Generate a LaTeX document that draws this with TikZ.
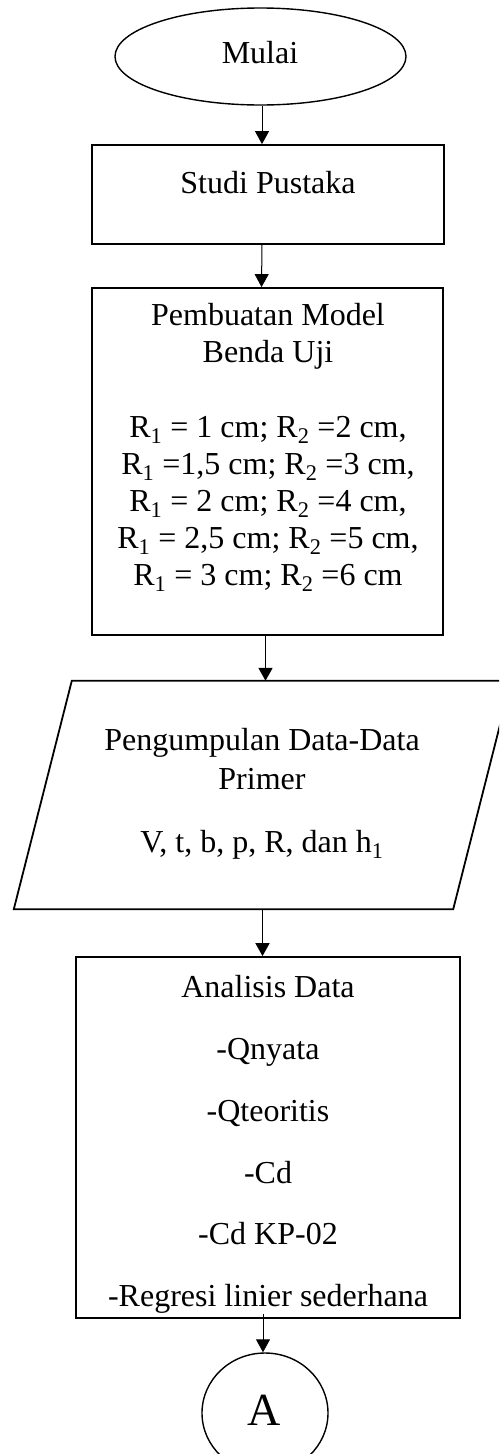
\documentclass[tikz,border=0pt]{standalone}
\usepackage{fontspec}
\setmainfont{Liberation Serif}
\usetikzlibrary{shapes.geometric,arrows.meta}
\newcommand{\sbx}[1]{\textsubscript{#1}}
\begin{document}
\begin{tikzpicture}[x=1pt,y=-1pt,
  boxshape/.style={draw=black,line width=1.8pt,minimum width=#1,inner sep=0pt},
  ovalshape/.style={draw=black,line width=1.4pt,ellipse,inner sep=0pt},
  txt/.style={anchor=base,inner sep=0pt,font=\fontsize{32}{36.8}\selectfont},
  thinarr/.style={line width=1pt,-{Triangle[length=13pt,width=14pt]}},
  thickarr/.style={line width=1.8pt,-{Triangle[length=13pt,width=14pt]}}]
\useasboundingbox (0,0) rectangle (499,1454);
\clip (0,0) rectangle (499,1454);
% shapes
\node[ovalshape,minimum width=291pt,minimum height=97pt] (start) at (260.5,56.5) {};
\node[boxshape=352pt,minimum height=99pt] (studi) at (268,194.5) {};
\node[boxshape=351pt,minimum height=347pt] (model) at (267.5,461.5) {};
\node[minimum width=497pt,minimum height=228pt,inner sep=0pt] (data) at (262.5,795) {};
\draw[line width=1.8pt,line join=miter]
  ([xshift=58pt]data.north west) -- (data.north east)
  -- ([xshift=-58pt]data.south east) -- (data.south west) -- cycle;
\node[boxshape=384pt,minimum height=361pt] (ana) at (268,1137.5) {};
\node[ovalshape,minimum width=126pt,minimum height=120pt] (A) at (265,1413) {};
% texts
\node[txt] (tstart) at (260,63) {Mulai};
\node[txt] (tstudi) at (268,193) {Studi Pustaka};
\node[txt] (tmodel1) at (268,325) {Pembuatan Model};
\node[txt] (tmodel2) at (268,362) {Benda Uji};
\node[txt] (tr1) at (268,437) {R\sbx{1} = 1 cm; R\sbx{2} =2 cm,};
\node[txt] (tr2) at (268,474) {R\sbx{1} =1,5 cm; R\sbx{2} =3 cm,};
\node[txt] (tr3) at (268,511) {R\sbx{1} = 2 cm; R\sbx{2} =4 cm,};
\node[txt] (tr4) at (268,548) {R\sbx{1} = 2,5 cm; R\sbx{2} =5 cm,};
\node[txt] (tr5) at (268,585) {R\sbx{1} = 3 cm; R\sbx{2} =6 cm};
\node[txt] (tdata1) at (262,750) {Pengumpulan Data-Data};
\node[txt] (tdata2) at (262,789) {Primer};
\node[txt] (tdata3) at (262,852) {V, t, b, p, R, dan h\sbx{1}};
\node[txt] (ta1) at (268,997) {Analisis Data};
\node[txt] (ta2) at (268,1059) {-Qnyata};
\node[txt] (ta3) at (268,1121) {-Qteoritis};
\node[txt] (ta4) at (268,1183) {-Cd};
\node[txt] (ta5) at (268,1244) {-Cd KP-02};
\node[txt] (ta6) at (268,1306) {-Regresi linier sederhana};
\node[anchor=base,inner sep=0pt,font=\fontsize{46}{52}\selectfont] (tA) at (264,1425) {A};
% connectors
\draw[thinarr] ([xshift=1.5pt]start.south) -- ([xshift=1.5pt]start.south |- studi.north);
\draw[thinarr] ([xshift=-6pt]studi.south) -- ([xshift=-6pt]model.north);
\draw[thickarr] ([xshift=-2pt]model.south) -- ([xshift=-2pt]model.south |- data.north);
\draw[thickarr] (data.south) -- (data.south |- ana.north);
\draw[thinarr] ([xshift=-2pt,yshift=5pt]A.north |- ana.south) -- ([xshift=-2pt]A.north);
\end{tikzpicture}
\end{document}
